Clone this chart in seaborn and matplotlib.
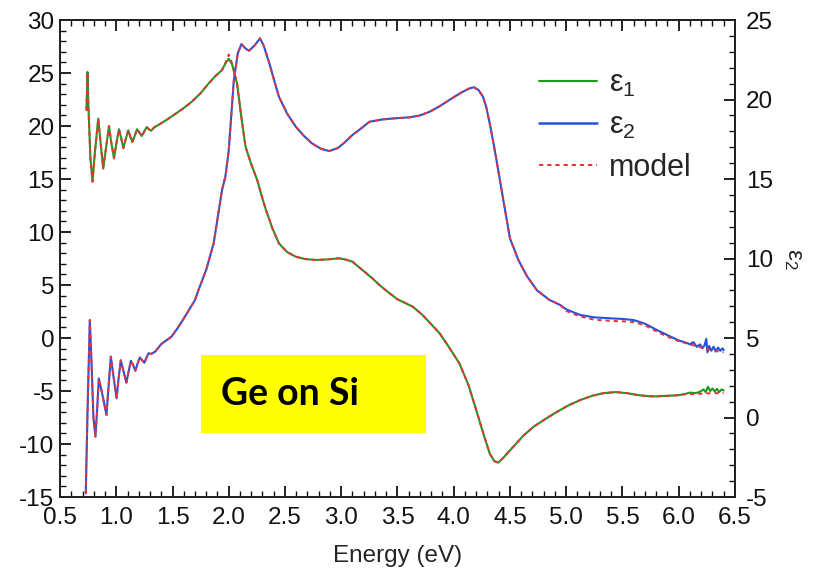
import matplotlib
matplotlib.use("Agg")
import matplotlib.pyplot as plt
from matplotlib.patches import Rectangle
from matplotlib.ticker import MultipleLocator
from matplotlib.lines import Line2D
import seaborn as sns
import pandas as pd

# ---------------- data ----------------
E1 = [0.735, 0.744, 0.752, 0.77, 0.789, 0.81, 0.84, 0.86, 0.884, 0.91, 0.935, 0.955,
      0.98, 1.00, 1.024, 1.045, 1.063, 1.085, 1.107, 1.125, 1.143, 1.165, 1.185, 1.205,
      1.226, 1.25, 1.27, 1.29, 1.31, 1.34, 1.375, 1.45, 1.524, 1.60, 1.672, 1.75, 1.82,
      1.88, 1.94, 1.97, 2.00, 2.03, 2.074, 2.11, 2.149, 2.20, 2.253, 2.29, 2.33, 2.39,
      2.446, 2.52, 2.596, 2.68, 2.774, 2.88, 2.982, 3.04, 3.10, 3.19, 3.28, 3.34, 3.42,
      3.50, 3.57, 3.637, 3.72, 3.80, 3.875, 3.96, 4.05, 4.13, 4.20, 4.26, 4.32, 4.36,
      4.395, 4.44, 4.53, 4.62, 4.71, 4.82, 4.92, 5.02, 5.125, 5.23, 5.33, 5.44, 5.54,
      5.65, 5.75, 5.81, 5.90, 5.99, 6.05, 6.10, 6.15, 6.19, 6.22, 6.24, 6.26, 6.28,
      6.30, 6.32, 6.34, 6.36, 6.38, 6.40]
eps1 = [21.5, 25.1, 22.0, 17.0, 14.75, 17.5, 20.7, 18.5, 16.0, 18.0, 20.0, 18.5,
        16.95, 18.3, 19.7, 18.8, 17.9, 18.8, 19.6, 19.0, 18.5, 19.1, 19.7, 19.4,
        19.06, 19.5, 19.9, 19.7, 19.56, 19.9, 20.1, 20.6, 21.13, 21.7, 22.3, 23.1, 24.0,
        24.7, 25.28, 25.9, 26.35, 25.8, 24.0, 21.0, 18.05, 16.4, 14.9, 13.5, 12.1, 10.3,
        8.93, 8.1, 7.67, 7.45, 7.36, 7.42, 7.52, 7.4, 7.2, 6.4, 5.6, 5.0, 4.3,
        3.65, 3.3, 2.95, 2.2, 1.3, 0.44, -0.9, -2.39, -4.4, -6.8, -8.9, -10.9, -11.6,
        -11.76, -11.3, -10.25, -9.2, -8.37, -7.6, -6.95, -6.35, -5.85, -5.45, -5.2, -5.1, -5.2,
        -5.4, -5.5, -5.5, -5.45, -5.4, -5.3, -5.15, -5.2, -5.06, -4.85, -5.1, -4.6, -5.0,
        -4.75, -5.05, -4.8, -5.1, -4.85, -4.95]

E1_model = E1[:95] + [6.10, 6.20, 6.30, 6.40]
eps1_model = (eps1[:39] + [25.95, 26.75, 25.9] + eps1[42:95]
              + [-5.3, -5.25, -5.2, -5.2])

E2 = [0.729, 0.745, 0.765, 0.78, 0.797, 0.815, 0.83, 0.845, 0.875, 0.913, 0.93, 0.952,
      0.975, 1.003, 1.02, 1.04, 1.065, 1.09, 1.11, 1.13, 1.15, 1.17, 1.19, 1.21, 1.23,
      1.25, 1.286, 1.31, 1.345, 1.40, 1.49, 1.554, 1.61, 1.70, 1.73, 1.80, 1.866, 1.94,
      1.97, 2.00, 2.045, 2.08, 2.113, 2.15, 2.18, 2.23, 2.277, 2.31, 2.36, 2.40, 2.446,
      2.52, 2.596, 2.67, 2.74, 2.82, 2.893, 2.97, 3.03, 3.10, 3.18, 3.25, 3.37, 3.48,
      3.607, 3.70, 3.786, 3.88, 3.96, 4.07, 4.14, 4.18, 4.22, 4.26, 4.29, 4.32, 4.36,
      4.395, 4.45, 4.50, 4.575, 4.65, 4.74, 4.85, 4.946, 5.00, 5.125, 5.25, 5.39, 5.50,
      5.60, 5.70, 5.78, 5.85, 5.93, 6.00, 6.08, 6.10, 6.13, 6.16, 6.19, 6.21, 6.23,
      6.245, 6.255, 6.27, 6.29, 6.31, 6.33, 6.35, 6.37, 6.39, 6.40]
eps2 = [-4.77, 0.5, 6.13, 3.5, 0.0, -1.2, 0.5, 2.46, 1.5, 0.16, 1.8, 3.83,
        2.6, 1.21, 2.4, 3.6, 2.9, 2.19, 2.9, 3.57, 3.3, 2.94, 3.4, 3.78, 3.6,
        3.45, 4.04, 4.0, 4.14, 4.62, 5.08, 5.71, 6.34, 7.39, 8.0, 9.3, 10.96, 14.3,
        15.15, 16.8, 21.2, 22.9, 23.49, 23.2, 23.07, 23.4, 23.85, 23.4, 22.3, 21.3, 20.18,
        19.1, 18.29, 17.7, 17.24, 16.9, 16.76, 16.95, 17.3, 17.77, 18.2, 18.6, 18.75, 18.82,
        18.88, 19.0, 19.23, 19.6, 19.97, 20.45, 20.7, 20.77, 20.6, 20.18, 19.5, 18.5, 17.0,
        15.57, 13.3, 11.27, 9.9, 8.9, 8.0, 7.4, 7.08, 6.8, 6.45, 6.3, 6.24, 6.2,
        6.13, 5.9, 5.6, 5.35, 5.08, 4.85, 4.67, 4.6, 4.75, 4.45, 4.6, 4.35, 4.55,
        4.95, 4.1, 4.5, 4.2, 4.45, 4.15, 4.4, 4.2, 4.35, 4.25]

E2_model = E2[:96] + [6.10, 6.20, 6.30, 6.40]
eps2_model = (eps2[:85] + [6.7, 6.35, 6.15, 6.08, 6.05, 6.0, 5.8, 5.5, 5.25, 5.0, 4.8]
              + [4.6, 4.4, 4.22, 4.1])

xticks = [0.5, 1.0, 1.5, 2.0, 2.5, 3.0, 3.5, 4.0, 4.5, 5.0, 5.5, 6.0, 6.5]
yticks_left = [-15, -10, -5, 0, 5, 10, 15, 20, 25, 30]
yticks_right = [-5, 0, 5, 10, 15, 20, 25]

# ---------------- style ----------------
sns.set_style("ticks")
plt.rcParams['font.family'] = ['Liberation Sans', 'DejaVu Sans']
plt.rcParams['mathtext.fontset'] = 'custom'
plt.rcParams['mathtext.rm'] = 'Liberation Sans'
plt.rcParams['mathtext.it'] = 'Liberation Sans'

C_GREEN = '#1e9a1e'
C_BLUE = '#2252e0'
C_RED = '#e8323c'
DASH = (0, (2.2, 2.0))

fig = plt.figure(figsize=(8.30, 5.77), dpi=100)
ax = fig.add_axes([0.0723, 0.1386, 0.8132, 0.8267])
ax2 = ax.twinx()

df1 = pd.DataFrame({'E': E1, 'v': eps1})
df1m = pd.DataFrame({'E': E1_model, 'v': eps1_model})
df2 = pd.DataFrame({'E': E2, 'v': eps2})
df2m = pd.DataFrame({'E': E2_model, 'v': eps2_model})

sns.lineplot(data=df1, x='E', y='v', ax=ax, color=C_GREEN, lw=1.5,
             sort=False, estimator=None, label=None)
sns.lineplot(data=df1m, x='E', y='v', ax=ax, color=C_RED, lw=1.4,
             linestyle=DASH, sort=False, estimator=None, label=None)
sns.lineplot(data=df2, x='E', y='v', ax=ax2, color=C_BLUE, lw=1.5,
             sort=False, estimator=None, label=None)
sns.lineplot(data=df2m, x='E', y='v', ax=ax2, color=C_RED, lw=1.4,
             linestyle=DASH, sort=False, estimator=None, label=None)

ax.set_xlim(0.5, 6.5)
ax.set_ylim(-15, 30)
ax2.set_ylim(-5, 25)

ax.set_xticks(xticks)
ax.set_xticklabels([f"{t:.1f}" for t in xticks])
ax.set_yticks(yticks_left)
ax.set_yticklabels([str(t) for t in yticks_left])
ax2.set_yticks(yticks_right)
ax2.set_yticklabels([str(t) for t in yticks_right])
ax.xaxis.set_minor_locator(MultipleLocator(0.1))
ax.yaxis.set_minor_locator(MultipleLocator(1))
ax2.yaxis.set_minor_locator(MultipleLocator(1))

ax.tick_params(axis='x', which='both', direction='in', top=True, bottom=True,
               labelsize=17.5, pad=7, colors='#111111')
ax.tick_params(axis='y', which='both', direction='in', left=True, right=False,
               labelsize=17.5, pad=4, colors='#111111')
ax2.tick_params(axis='y', which='both', direction='in', labelsize=17.5, pad=8,
                colors='#111111')
for a in (ax, ax2):
    a.tick_params(which='major', length=8, width=1.3)
    a.tick_params(which='minor', length=4, width=1.0)
    for s in a.spines.values():
        s.set_visible(True)
        s.set_linewidth(1.4)
        s.set_color('#222222')

ax.set_xlabel('Energy (eV)', fontsize=17.5, labelpad=12)
ax.set_ylabel('')
ax2.set_ylabel('ε$_2$', fontsize=17.5, rotation=270, labelpad=22)

handles = [Line2D([], [], color=C_GREEN, lw=1.5),
           Line2D([], [], color=C_BLUE, lw=1.8),
           Line2D([], [], color=C_RED, lw=1.4, linestyle=DASH)]
labels = ['ε$_1$', 'ε$_2$', 'model']
ax2.legend(handles, labels, loc='upper left', bbox_to_anchor=(0.669, 0.956),
           frameon=False, fontsize=22, handlelength=1.9, labelspacing=0.4,
           handletextpad=0.4)

# Label box
ax.add_patch(Rectangle((0.209, 0.134), 0.333, 0.1635, transform=ax.transAxes,
                       facecolor='#ffff00', edgecolor='none', zorder=5))
ax.text(0.238, 0.216, 'Ge on Si', transform=ax.transAxes, fontsize=27,
        fontweight='bold', family=['Lato', 'DejaVu Sans'], va='center', ha='left',
        color='black', zorder=6)

fig.savefig('out.png', dpi=100)
